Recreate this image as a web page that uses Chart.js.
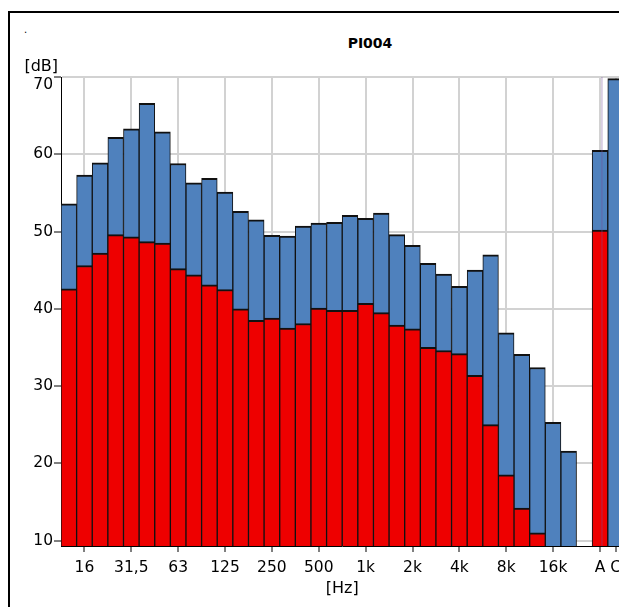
<!DOCTYPE html>
<html lang="en">
  <head>
    <meta charset="UTF-8" />
    <title>PI004</title>
    <style>
      html, body { margin: 0; padding: 0; overflow: hidden; background: #fff; }
      body { width: 619px; height: 607px; position: relative; font-family: "DejaVu Sans", sans-serif; }
      /* outer frame, cut off at the right and bottom like the original */
      #frame { position: absolute; left: 8px; top: 11px; width: 1000px; height: 1000px; border: 2px solid #000; }
      #dot { position: absolute; left: 24px; top: 25px; font-size: 10px; line-height: 10px; }
      #title { position: absolute; left: 300px; width: 140px; top: 35px; text-align: center; font-weight: bold; font-size: 14px; line-height: 16px; }
      #chart { position: absolute; left: 0; top: 0; }
    </style>
  </head>
  <body>
    <div id="frame"></div>
    <span id="dot">.</span>
    <div id="title">PI004</div>
    <canvas id="chart" width="720" height="607"></canvas>
    <script src="https://cdn.jsdelivr.net/npm/chart.js"></script>
    <script>
      // 1/3 octave bands + empty slot + A and C totals
      const bands = ["12,5", "16", "20", "25", "31,5", "40", "50", "63", "80", "100", "125", "160", "200", "250", "315", "400", "500", "630", "800", "1k", "1,25k", "1,6k", "2k", "2,5k", "3,15k", "4k", "5k", "6,3k", "8k", "10k", "12,5k", "16k", "20k", "", "A", "C"];
      const shownTicks = ["16", "31,5", "63", "125", "250", "500", "1k", "2k", "4k", "8k", "16k", "A", "C"];
      const yTicks = [10, 20, 30, 40, 50, 60, 70];

      // red series (front) and blue series (behind), dB
      const redValues = [42.6, 45.6, 47.2, 49.6, 49.3, 48.7, 48.5, 45.2, 44.4, 43.1, 42.5, 40.0, 38.5, 38.8, 37.5, 38.1, 40.1, 39.8, 39.8, 40.7, 39.5, 37.9, 37.4, 35.0, 34.6, 34.2, 31.4, 25.0, 18.5, 14.2, 11.0, null, null, null, 50.2, null];
      const blueValues = [53.6, 57.3, 58.9, 62.2, 63.3, 66.6, 62.9, 58.8, 56.3, 56.9, 55.1, 52.6, 51.5, 49.5, 49.4, 50.7, 51.1, 51.2, 52.1, 51.7, 52.4, 49.6, 48.2, 45.9, 44.5, 42.9, 45.0, 47.0, 36.9, 34.1, 32.4, 25.3, 21.6, null, 60.5, 69.8];

      const gridGray = "#d2d2d2";
      const isShown = (i) => shownTicks.includes(bands[i]);
      const barBorder = { top: 2, left: 1, right: 1, bottom: 0 };

      // [dB] unit, the shifted top label and the A marker line
      const extras = {
        id: "extras",
        afterDatasetsDraw(chart) {
          const ctx = chart.ctx;
          const x = chart.scales.x.getPixelForValue(bands.indexOf("A"));
          ctx.save();
          ctx.strokeStyle = "rgba(120, 80, 150, 0.5)";
          ctx.lineWidth = 1;
          ctx.beginPath();
          ctx.moveTo(x + 2, chart.chartArea.top);
          ctx.lineTo(x + 2, chart.chartArea.bottom);
          ctx.stroke();
          ctx.restore();
        },
        afterDraw(chart) {
          const ctx = chart.ctx;
          const area = chart.chartArea;
          const y = chart.scales.y;
          ctx.save();
          ctx.fillStyle = "#000";
          ctx.textAlign = "right";
          ctx.textBaseline = "middle";
          ctx.font = "16px 'DejaVu Sans'";
          ctx.fillText("[dB]", area.left - 3, area.top - 10);
          ctx.font = "15.5px 'DejaVu Sans'";
          ctx.fillText(String(yTicks[yTicks.length - 1]), area.left - 8, y.getPixelForValue(yTicks[yTicks.length - 1]) + 8);
          ctx.restore();
        },
      };

      new Chart(document.getElementById("chart"), {
        type: "bar",
        data: {
          labels: bands,
          datasets: [
            {
              data: redValues,
              backgroundColor: "#ee0000",
              borderColor: "#111",
              borderWidth: barBorder,
              grouped: false,
              barPercentage: 1,
              categoryPercentage: 1,
            },
            {
              data: blueValues,
              backgroundColor: "#4f81bd",
              borderColor: "#111",
              borderWidth: barBorder,
              grouped: false,
              barPercentage: 1,
              categoryPercentage: 1,
            },
          ],
        },
        options: {
          responsive: false,
          animation: false,
          layout: { padding: { top: 77, right: 96.6, left: 0, bottom: 0 } },
          plugins: { legend: { display: false }, tooltip: { enabled: false } },
          scales: {
            x: {
              afterFit(scale) { scale.height = 61; },
              border: { color: "#000", width: 1 },
              grid: {
                offset: false,
                color: (c) => (isShown(c.index) ? gridGray : "transparent"),
                tickColor: (c) => (isShown(c.index) ? "#000" : "transparent"),
                lineWidth: 2,
                tickWidth: 1,
                tickLength: 6,
              },
              ticks: {
                autoSkip: false,
                maxRotation: 0,
                minRotation: 0,
                padding: 7,
                color: "#000",
                font: { family: "DejaVu Sans", size: 15.5 },
                callback: (v, i) => (isShown(i) ? bands[i] : ""),
              },
              title: {
                display: true,
                text: "[Hz]",
                color: "#000",
                font: { family: "DejaVu Sans", size: 16 },
                padding: { top: 0, bottom: 8.5 },
              },
            },
            y: {
              min: 9.3,
              max: 70,
              afterFit(scale) { scale.width = 61; },
              afterBuildTicks(scale) { scale.ticks = yTicks.map((v) => ({ value: v })); },
              border: { color: "#000", width: 1 },
              grid: { color: gridGray, lineWidth: 2, tickColor: "#000", tickWidth: 1, tickLength: 7 },
              ticks: {
                padding: 1,
                color: "#000",
                font: { family: "DejaVu Sans", size: 15.5 },
                callback: (v) => (v === yTicks[yTicks.length - 1] ? "" : v),
              },
            },
          },
        },
        plugins: [extras],
      });
    </script>
  </body>
</html>
